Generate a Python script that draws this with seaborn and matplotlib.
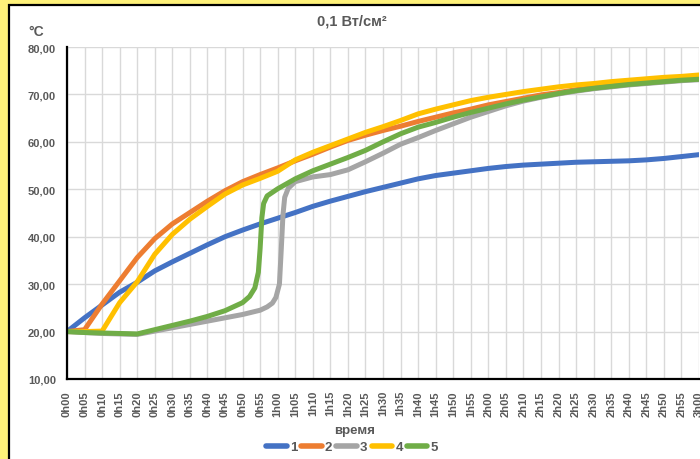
import pandas as pd
import matplotlib.pyplot as plt
import seaborn as sns
from matplotlib.patches import Rectangle

# time in minutes
minutes = list(range(0, 185, 5))

temp_1 = [20.0, 22.9, 25.6, 28.3, 30.4, 32.8, 34.7, 36.5, 38.3, 40.0, 41.4, 42.7,
          43.9, 45.1, 46.4, 47.5, 48.5, 49.5, 50.4, 51.3, 52.2, 52.9, 53.4, 53.9,
          54.4, 54.8, 55.1, 55.3, 55.5, 55.7, 55.8, 55.9, 56.0, 56.2, 56.5, 56.9, 57.3]

temp_2 = [20.0, 20.4, 25.8, 30.7, 35.6, 39.6, 42.7, 45.1, 47.5, 49.7, 51.6, 53.1,
          54.5, 56.0, 57.4, 58.9, 60.3, 61.4, 62.4, 63.3, 64.3, 65.2, 66.1, 66.9,
          67.8, 68.5, 69.2, 69.9, 70.4, 71.0, 71.5, 71.8, 72.2, 72.5, 72.8, 73.1, 73.4]

temp_4 = [20.0, 20.0, 20.1, 26.1, 30.5, 36.3, 40.5, 43.7, 46.4, 49.0, 50.9, 52.3,
          53.8, 56.2, 57.8, 59.2, 60.6, 62.0, 63.2, 64.5, 65.9, 66.9, 67.8, 68.7,
          69.4, 70.0, 70.6, 71.1, 71.6, 72.0, 72.3, 72.7, 73.0, 73.3, 73.6, 73.8, 74.1]

minutes_3 = [0, 5, 10, 15, 20, 25, 30, 35, 40, 45, 50, 55, 57, 58.5, 59.5, 60.5, 61,
             61.5, 62, 63, 65, 70, 75, 80, 85, 90, 95, 100, 105, 110, 115, 120, 125,
             130, 135, 140, 145, 150, 155, 160, 165, 170, 175, 180]
temp_3 = [20.0, 19.8, 19.6, 19.5, 19.4, 20.1, 20.8, 21.5, 22.2, 22.9, 23.6, 24.5,
          25.2, 26.0, 27.2, 30.0, 37.0, 44.5, 48.3, 50.2, 51.6, 52.6, 53.1, 54.1,
          55.8, 57.6, 59.5, 60.9, 62.4, 63.8, 65.2, 66.4, 67.6, 68.6, 69.4, 70.1,
          70.7, 71.2, 71.6, 72.0, 72.3, 72.6, 72.9, 73.1]

minutes_5 = [0, 5, 10, 15, 20, 25, 30, 35, 40, 45, 50, 52, 53.5, 54.5, 55, 55.5, 56,
             57, 60, 65, 70, 75, 80, 85, 90, 95, 100, 105, 110, 115, 120, 125, 130,
             135, 140, 145, 150, 155, 160, 165, 170, 175, 180]
temp_5 = [20.0, 19.8, 19.7, 19.6, 19.5, 20.4, 21.3, 22.2, 23.2, 24.4, 26.1, 27.4,
          29.2, 32.5, 37.5, 44.0, 47.0, 48.6, 50.1, 52.2, 53.9, 55.3, 56.7, 58.2,
          60.0, 61.7, 63.1, 64.1, 65.2, 66.2, 67.1, 68.0, 68.8, 69.5, 70.2, 70.8,
          71.3, 71.7, 72.1, 72.4, 72.7, 73.0, 73.2]

series_names = ['1', '2', '3', '4', '5']
colors = ['#4472C4', '#ED7D31', '#A5A5A5', '#FFC000', '#70AD47']
y_ticks = [10, 20, 30, 40, 50, 60, 70, 80]
x_tick_labels = [f"{m // 60}h{m % 60:02d}" for m in minutes]


def main():
    frames = []
    for name, t, v in zip(series_names,
                          [minutes, minutes, minutes_3, minutes, minutes_5],
                          [temp_1, temp_2, temp_3, temp_4, temp_5]):
        frames.append(pd.DataFrame({'time': t, 'temp': v, 'series': name}))
    df = pd.concat(frames, ignore_index=True)

    sns.set_style('white')
    plt.rcParams['font.family'] = ['Liberation Sans', 'DejaVu Sans']
    plt.rcParams['font.weight'] = 'bold'
    grey = '#595959'

    fig = plt.figure(figsize=(7, 4.6), dpi=100, facecolor='#FFF27A')
    fig.patches.append(Rectangle((9 / 700, -0.1), 1.1, 1.1 - 5.5 / 460,
                                 transform=fig.transFigure, facecolor='white',
                                 edgecolor='black', lw=1.6, zorder=-5))

    ax = fig.add_axes([67 / 700, 1 - 380 / 460, 632 / 700, 332 / 460])
    ax.set_facecolor('none')

    sns.lineplot(data=df, x='time', y='temp', hue='series', palette=colors,
                 hue_order=series_names, estimator=None, linewidth=3.6,
                 solid_capstyle='round', solid_joinstyle='round', ax=ax)

    ax.set_xlim(0, 180)
    ax.set_ylim(10, 80)
    ax.set_xticks(minutes)
    ax.set_xticklabels(x_tick_labels, rotation=90, fontsize=8, color=grey,
                       fontweight='bold')
    ax.set_yticks(y_ticks)
    ax.set_yticklabels([f"{v},00" for v in y_ticks], fontsize=8, color=grey,
                       fontweight='bold')
    ax.grid(True, color='#D9D9D9', lw=1)
    ax.set_axisbelow(True)
    ax.tick_params(direction='out', length=5, width=1.5, color='black', pad=3)
    for side in ['top', 'right']:
        ax.spines[side].set_visible(False)
    for side in ['left', 'bottom']:
        ax.spines[side].set_color('black')
        ax.spines[side].set_linewidth(1.6)
    ax.set_xlabel('')
    ax.set_ylabel('')

    fig.text(352 / 700, 1 - 22 / 460, '0,1 Вт/см²', ha='center', va='center',
             fontsize=10.5, color=grey, fontweight='bold')
    fig.text(36 / 700, 1 - 32 / 460, '°C', ha='center', va='center',
             fontsize=10, color=grey, fontweight='bold')
    fig.text(355 / 700, 1 - 431 / 460, 'время', ha='center', va='center',
             fontsize=9.5, color=grey, fontweight='bold')

    handles, labels = ax.get_legend_handles_labels()
    leg = ax.legend(handles, labels, loc='center', ncol=5, frameon=False,
                    bbox_to_anchor=(352 / 700, 1 - 448 / 460),
                    bbox_transform=fig.transFigure, handlelength=1.55,
                    handletextpad=0.25, columnspacing=0.3, fontsize=9.5,
                    borderpad=0)
    for line in leg.get_lines():
        line.set_linewidth(4)
        line.set_solid_capstyle('round')
    for text in leg.get_texts():
        text.set_color(grey)
        text.set_fontweight('bold')

    fig.savefig('out.png', dpi=100, facecolor=fig.get_facecolor())


if __name__ == '__main__':
    main()
